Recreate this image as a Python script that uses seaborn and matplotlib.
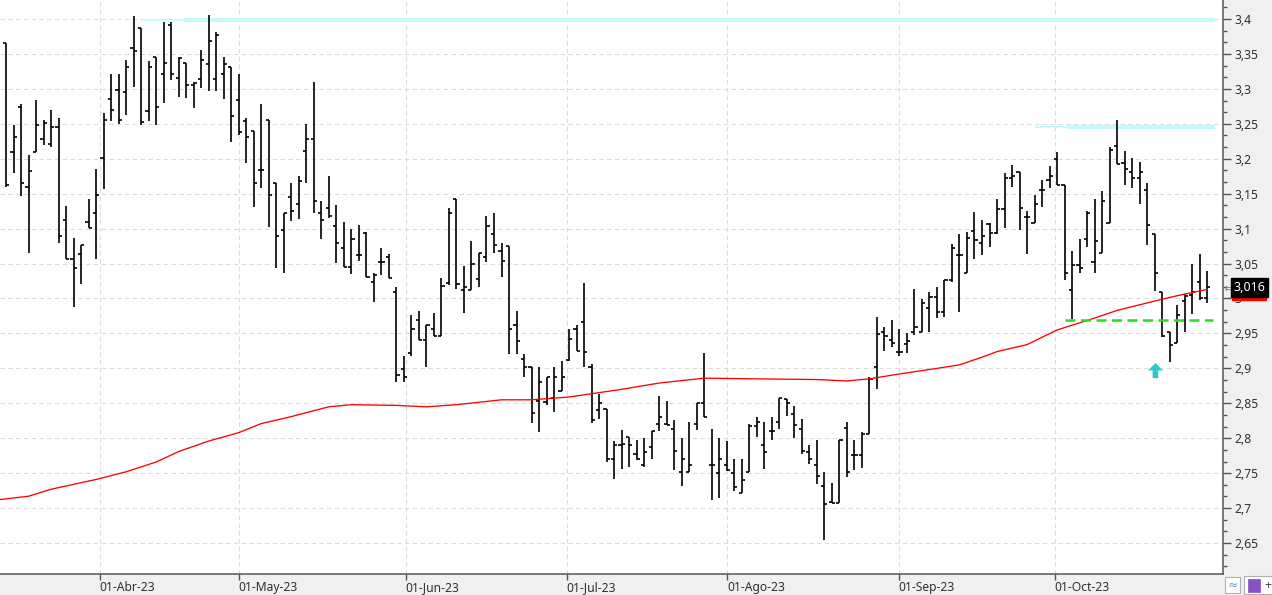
import numpy as np
import pandas as pd
import matplotlib
matplotlib.use("Agg")
import matplotlib.pyplot as plt
import seaborn as sns
from matplotlib.ticker import FixedLocator
from matplotlib.patches import Rectangle, FancyArrow

# ---------------- data ----------------
opens = [3.365, 3.209, 3.274, 3.159, 3.210, 3.228, 3.221, 3.245, 3.112, 3.057,
         3.063, 3.109, 3.122, 3.201, 3.285, 3.299, 3.295, 3.359, 3.387, 3.268,
         3.346, 3.321, 3.391, 3.315, 3.337, 3.305, 3.314, 3.335, 3.314, 3.321,
         3.332, 3.284, 3.254, 3.240, 3.184, 3.255, 3.165, 3.098, 3.145, 3.135,
         3.211, 3.228, 3.123, 3.129, 3.104, 3.072, 3.045, 3.062, 3.094, 3.023,
         3.052, 3.059, 3.009, 2.899, 2.922, 2.969, 2.941, 2.957, 2.946, 3.022,
         3.143, 3.012, 3.012, 3.028, 3.060, 3.092, 3.068, 3.075, 2.962, 2.913,
         2.902, 2.853, 2.852, 2.857, 2.867, 2.912, 2.957, 2.966, 2.902, 2.841,
         2.842, 2.771, 2.790, 2.802, 2.777, 2.761, 2.788, 2.821, 2.821, 2.813,
         2.751, 2.752, 2.821, 2.850, 2.762, 2.750, 2.762, 2.750, 2.721, 2.752,
         2.817, 2.791, 2.810, 2.823, 2.856, 2.834, 2.813, 2.780, 2.762, 2.732,
         2.709, 2.708, 2.814, 2.776, 2.776, 2.806, 2.902, 2.952, 2.941, 2.923,
         2.935, 2.952, 2.952, 2.986, 3.002, 2.980, 3.026, 3.062, 3.037, 3.096,
         3.079, 3.107, 3.094, 3.128, 3.173, 3.181, 3.116, 3.108, 3.155, 3.169,
         3.200, 3.162, 3.012, 3.048, 3.085, 3.052, 3.065, 3.108, 3.218, 3.194,
         3.181, 3.173, 3.155, 3.092, 3.009, 2.952, 2.936, 2.996, 3.005, 3.023,
         3.000]
highs = [3.365, 3.248, 3.279, 3.205, 3.284, 3.255, 3.270, 3.258, 3.132, 3.087,
         3.077, 3.143, 3.185, 3.265, 3.321, 3.321, 3.341, 3.405, 3.387, 3.340,
         3.346, 3.395, 3.396, 3.345, 3.337, 3.310, 3.356, 3.406, 3.381, 3.345,
         3.332, 3.321, 3.258, 3.240, 3.278, 3.255, 3.165, 3.122, 3.165, 3.175,
         3.250, 3.310, 3.140, 3.175, 3.134, 3.110, 3.099, 3.105, 3.095, 3.037,
         3.072, 3.063, 3.017, 2.918, 2.977, 2.982, 2.962, 2.979, 3.030, 3.129,
         3.143, 3.046, 3.083, 3.065, 3.118, 3.123, 3.079, 3.075, 2.982, 2.921,
         2.902, 2.902, 2.887, 2.902, 2.911, 2.956, 2.962, 3.022, 2.906, 2.863,
         2.842, 2.796, 2.812, 2.802, 2.797, 2.800, 2.810, 2.860, 2.853, 2.826,
         2.800, 2.823, 2.850, 2.922, 2.813, 2.800, 2.796, 2.771, 2.770, 2.821,
         2.831, 2.823, 2.831, 2.857, 2.856, 2.846, 2.827, 2.790, 2.797, 2.751,
         2.736, 2.797, 2.823, 2.797, 2.809, 2.887, 2.974, 2.959, 2.969, 2.956,
         2.951, 3.013, 2.999, 3.009, 3.017, 3.027, 3.078, 3.092, 3.095, 3.124,
         3.112, 3.108, 3.142, 3.180, 3.191, 3.181, 3.125, 3.148, 3.169, 3.190,
         3.209, 3.163, 3.068, 3.085, 3.125, 3.142, 3.154, 3.217, 3.255, 3.211,
         3.201, 3.195, 3.165, 3.092, 3.009, 2.952, 2.990, 3.006, 3.050, 3.064,
         3.040]
lows = [3.159, 3.179, 3.147, 3.065, 3.210, 3.219, 3.217, 3.079, 3.057, 2.988,
        3.021, 3.101, 3.057, 3.157, 3.254, 3.250, 3.263, 3.303, 3.249, 3.254,
        3.249, 3.280, 3.313, 3.289, 3.287, 3.273, 3.301, 3.297, 3.297, 3.285,
        3.224, 3.234, 3.194, 3.131, 3.158, 3.103, 3.043, 3.037, 3.111, 3.114,
        3.165, 3.123, 3.085, 3.115, 3.051, 3.045, 3.035, 3.053, 3.031, 2.995,
        3.033, 3.029, 2.881, 2.881, 2.917, 2.941, 2.902, 2.946, 2.946, 3.019,
        3.013, 2.979, 3.012, 3.016, 3.052, 3.065, 3.031, 2.921, 2.921, 2.887,
        2.822, 2.809, 2.848, 2.837, 2.867, 2.910, 2.925, 2.902, 2.822, 2.827,
        2.766, 2.742, 2.756, 2.759, 2.769, 2.759, 2.770, 2.811, 2.819, 2.754,
        2.732, 2.752, 2.812, 2.831, 2.711, 2.715, 2.753, 2.725, 2.721, 2.752,
        2.802, 2.756, 2.797, 2.813, 2.832, 2.801, 2.777, 2.763, 2.735, 2.655,
        2.708, 2.708, 2.745, 2.754, 2.757, 2.806, 2.871, 2.925, 2.930, 2.917,
        2.922, 2.948, 2.952, 2.952, 2.972, 2.973, 3.023, 2.981, 3.037, 3.057,
        3.062, 3.073, 3.093, 3.101, 3.159, 3.098, 3.064, 3.108, 3.131, 3.158,
        3.162, 3.026, 2.971, 3.037, 3.074, 3.037, 3.065, 3.108, 3.193, 3.162,
        3.158, 3.135, 3.077, 3.011, 2.945, 2.909, 2.936, 2.952, 2.978, 2.998,
        2.993]
closes = [3.163, 3.231, 3.165, 3.183, 3.249, 3.251, 3.245, 3.089, 3.057, 3.043,
          3.077, 3.101, 3.148, 3.255, 3.270, 3.255, 3.331, 3.354, 3.253, 3.331,
          3.274, 3.337, 3.321, 3.344, 3.305, 3.308, 3.341, 3.369, 3.377, 3.335,
          3.261, 3.238, 3.231, 3.165, 3.184, 3.148, 3.089, 3.122, 3.125, 3.168,
          3.228, 3.139, 3.112, 3.118, 3.079, 3.045, 3.085, 3.062, 3.031, 3.034,
          3.052, 3.029, 2.891, 2.888, 2.956, 2.941, 2.962, 2.946, 3.018, 3.123,
          3.021, 3.016, 3.049, 3.065, 3.104, 3.076, 3.054, 2.957, 2.939, 2.902,
          2.836, 2.881, 2.887, 2.887, 2.887, 2.942, 2.925, 2.923, 2.826, 2.851,
          2.771, 2.790, 2.792, 2.790, 2.770, 2.781, 2.810, 2.831, 2.819, 2.782,
          2.770, 2.762, 2.850, 2.831, 2.761, 2.770, 2.755, 2.730, 2.740, 2.817,
          2.823, 2.781, 2.811, 2.857, 2.851, 2.819, 2.782, 2.770, 2.746, 2.706,
          2.708, 2.797, 2.751, 2.776, 2.806, 2.885, 2.949, 2.946, 2.937, 2.923,
          2.939, 2.959, 2.993, 3.002, 2.980, 3.026, 3.072, 3.062, 3.086, 3.084,
          3.089, 3.094, 3.128, 3.173, 3.175, 3.129, 3.116, 3.135, 3.155, 3.175,
          3.163, 3.037, 3.048, 3.043, 3.123, 3.082, 3.139, 3.213, 3.193, 3.185,
          3.173, 3.181, 3.105, 3.037, 2.946, 2.933, 2.976, 3.003, 3.010, 3.000,
          3.016]

# moving average (red), read at selected bars
ma_idx = [-1, 3, 6, 12, 16, 20, 23, 27, 31, 34, 38, 43, 46, 52, 56, 60, 66,
          70, 75, 82, 87, 93, 100, 108, 112, 115, 119, 124, 127, 130, 132, 136,
          140, 145, 148, 154, 156, 160]
ma_val = [2.712, 2.717, 2.727, 2.741, 2.752, 2.766, 2.781, 2.796, 2.808, 2.821,
          2.831, 2.845, 2.848, 2.847, 2.845, 2.848, 2.855, 2.855, 2.859, 2.870,
          2.879, 2.886, 2.885, 2.884, 2.882, 2.885, 2.892, 2.900, 2.905, 2.916,
          2.924, 2.934, 2.955, 2.972, 2.983, 2.999, 3.004, 3.013]

month_labels = ["01-Abr-23", "01-May-23", "01-Jun-23", "01-Jul-23",
                "01-Ago-23", "01-Sep-23", "01-Oct-23"]
month_pos = [12.47, 30.98, 53.23, 74.68, 96.02, 118.92, 139.7]

resist_levels = [3.398, 3.246]
resist_start_thin = [18.1, 137.0]
resist_start_thick = [23.7, 141.5]
resist_end = 161.1
support_level = 2.969
support_range = (141.0, 160.8)
signal_idx = 153.1
signal_price = 2.886
last_price = 3.016
last_label = "3,016"

# ---------------- figure ----------------
sns.set_theme(style="white")
plt.rcParams['font.family'] = ['Noto Sans', 'DejaVu Sans']

W, H = 1272, 595
fig = plt.figure(figsize=(W / 100, H / 100), dpi=100, facecolor='#f0f0f0')
ax = fig.add_axes([0, 21 / H, 1223 / W, 574 / H])
ax.set_facecolor('white')

ax.set_xlim(-0.8, 162.1)
ax.set_ylim(2.6057, 3.4272)

# grid
grid_kw = dict(color='#dcdcdc', lw=0.8, ls=(0, (4, 3)), zorder=0)
for lv in np.arange(2.65, 3.41, 0.05):
    ax.axhline(lv, **grid_kw)
for p in month_pos:
    ax.axvline(p, **grid_kw)

# resistance bands (light cyan)
for lv, s1, s2 in zip(resist_levels, resist_start_thin, resist_start_thick):
    ax.hlines(lv, s1, resist_end, color='#c6fafa', lw=1.4, zorder=1)
    ax.hlines(lv, s2, resist_end, color='#c6fafa', lw=3.0, zorder=1)

# OHLC bars
n = len(opens)
df = pd.DataFrame(dict(idx=np.arange(n), o=opens, h=highs, l=lows, c=closes))
ax.vlines(df.idx, df.l, df.h, color='black', lw=1.2, zorder=3)
ax.hlines(df.o, df.idx - 0.42, df.idx, color='black', lw=1.2, zorder=3)
ax.hlines(df.c, df.idx, df.idx + 0.42, color='black', lw=1.2, zorder=3)

# moving average
ma = pd.DataFrame(dict(idx=ma_idx, v=ma_val))
sns.lineplot(data=ma, x='idx', y='v', color='#ff0000', lw=0.95, ax=ax, zorder=4)

# support (green dashed)
ax.hlines(support_level, support_range[0], support_range[1], color='#22e022',
          lw=1.8, linestyles=(0, (4, 2.2)), zorder=5)

# signal arrow
ax.add_patch(FancyArrow(signal_idx, signal_price, 0, 0.0215, width=0.75,
                        head_width=2.0, head_length=0.0105,
                        length_includes_head=True, color='#2ec8c8', lw=0, zorder=5))

# axes styling
for s in ['top', 'left']:
    ax.spines[s].set_visible(False)
for s in ['right', 'bottom']:
    ax.spines[s].set_color('#555555')
    ax.spines[s].set_linewidth(1.1)

ax.yaxis.tick_right()
yt = np.round(np.arange(2.65, 3.401, 0.05), 2)
ax.yaxis.set_major_locator(FixedLocator(yt))
ylabels = [(f"{v:.2f}".rstrip('0').rstrip('.')).replace('.', ',') for v in yt]
ax.set_yticklabels(ylabels)
minor = []
for v in np.arange(2.60, 3.45, 0.05):
    minor += [v + 0.05 / 3, v + 0.1 / 3]
ax.yaxis.set_minor_locator(FixedLocator(minor))
ax.tick_params(axis='y', which='major', direction='out', length=5.5, width=1,
               color='#555555', labelsize=8.7, labelcolor='#303030', pad=2.5,
               right=True, left=False)
ax.tick_params(axis='y', which='minor', direction='out', length=3, width=1,
               color='#555555', right=True, left=False)

ax.set_xticks(month_pos)
ax.set_xticklabels(month_labels, ha='left')
ax.tick_params(axis='x', which='major', direction='out', length=4.5, width=1,
               color='#555555', labelsize=8.7, labelcolor='#303030', pad=0.5,
               bottom=True)
ax.set_xlabel('')
ax.set_ylabel('')
ax.grid(False)

# last price label on right axis
ytr = ax.get_yaxis_transform()
ax.add_patch(Rectangle((1.0075, 2.9975), 0.028, 0.014, transform=ytr,
                       color='#ff0000', clip_on=False, zorder=10))
ax.text(1.0085, last_price, last_label, transform=ytr, color='white',
        fontsize=9, va='center', ha='left', zorder=12, clip_on=False,
        bbox=dict(boxstyle='square,pad=0.22', fc='black', ec='black'))
ax.text(1.0012, last_price - 0.002, '⇇', transform=ytr, color='#777777',
        fontsize=5.5, va='center', ha='left', zorder=11, clip_on=False)

# small toolbar icons bottom right
fig.patches.append(Rectangle((1225 / W, 2 / H), 15 / W, 16 / H,
                             transform=fig.transFigure, fc='white',
                             ec='#b0b0b0', lw=0.8))
fig.text(1232.5 / W, 10 / H, '≈', color='#6a9bd8', fontsize=9,
         ha='center', va='center')
fig.patches.append(Rectangle((1244 / W, 1 / H), 30 / W, 18 / H,
                             transform=fig.transFigure, fc='white',
                             ec='#b0b0b0', lw=0.8))
fig.patches.append(Rectangle((1248 / W, 3 / H), 12 / W, 13 / H,
                             transform=fig.transFigure, fc='#8a4fc0',
                             ec='#8a4fc0', lw=0.5))
fig.text(1268 / W, 10 / H, '+', color='#444444', fontsize=9,
         ha='center', va='center')

fig.savefig('out.png', dpi=100, facecolor=fig.get_facecolor())
